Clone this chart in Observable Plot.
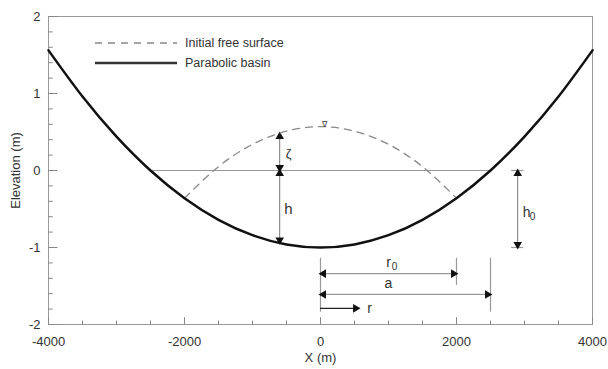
<!DOCTYPE html>
<html><head><meta charset="utf-8">
<script src="https://cdn.jsdelivr.net/npm/d3@7"></script>
<script src="https://cdn.jsdelivr.net/npm/@observablehq/plot@0.6"></script>
<style>
body{margin:0;background:#fff;font-family:"Liberation Sans",Arial,sans-serif}
#wrap{position:relative;width:608px;height:369px}
#legend{position:absolute;left:95px;top:33px;font-size:12.5px;color:#333;line-height:20px}
#legend div{display:flex;align-items:center}
#legend svg{margin-right:8px}
</style>
</head><body>
<div id="wrap">
<div id="legend">
<div><svg width="82" height="10"><line x1="0" y1="5" x2="82" y2="5" stroke="#888" stroke-width="1.3" stroke-dasharray="7,6"/></svg>Initial free surface</div>
<div><svg width="82" height="10"><line x1="0" y1="5" x2="82" y2="5" stroke="#333" stroke-width="2.5"/></svg>Parabolic basin</div>
</div>
</div>
<script>
// Parabolic basin
const basinX = [-4000,-3500,-3000,-2500,-2000,-1500,-1000,-500,0,500,1000,1500,2000,2500,3000,3500,4000];
const basinZ = [1.56,0.96,0.44,0.0,-0.36,-0.64,-0.84,-0.96,-1.0,-0.96,-0.84,-0.64,-0.36,0.0,0.44,0.96,1.56];
// Initial free surface (dashed)
const surfX = [-2000,-1500,-1000,-500,0,500,1000,1500,2000];
const surfZ = [-0.36,0.05,0.34,0.51,0.57,0.51,0.34,0.05,-0.36];
// Still water level segment
const levelX = [-2500,2500];
const levelZ = [0,0];
// Axis ticks
const xMajor = [-4000,-2000,0,2000,4000];
const xMinor = d3.range(-4000,4001,500);
const yMajor = [-2,-1,0,1,2];
const yMinor = d3.range(-20,21,2).map(d=>d/10);
// Annotation arrows
const vArrows = [
  {name:"zeta", x:-600, y1:0, y2:0.48},
  {name:"h", x:-600, y1:-0.94, y2:0},
  {name:"h0", x:2900, y1:-1.0, y2:0}
];
const hArrows = [
  {name:"r0", y:-1.34, x1:0, x2:2000},
  {name:"a", y:-1.61, x1:0, x2:2500},
  {name:"r", y:-1.79, x1:0, x2:560}
];
const guides = [
  {x:0, y1:-1.14, y2:-1.84},
  {x:2000, y1:-1.14, y2:-1.49},
  {x:2500, y1:-1.14, y2:-1.84}
];
const caps = [
  {y:0, x1:2810, x2:2990},
  {y:-1.0, x1:2810, x2:2990}
];
const heads = [
  {x:-600, y:0.48, dir:"up"}, {x:-600, y:0, dir:"down"},
  {x:-600, y:0, dir:"up"}, {x:-600, y:-0.94, dir:"down"},
  {x:2900, y:0, dir:"up"}, {x:2900, y:-1.0, dir:"down"},
  {x:0, y:-1.34, dir:"left"}, {x:2000, y:-1.34, dir:"right"},
  {x:0, y:-1.61, dir:"left"}, {x:2500, y:-1.61, dir:"right"},
  {x:560, y:-1.79, dir:"right"}
];
const labels = [
  {x:-470, y:0.22, text:"ζ", size:13},
  {x:-470, y:-0.5, text:"h", size:15},
  {x:3030, y:-0.55, text:"h", size:14},
  {x:1000, y:-1.2, text:"r", size:14},
  {x:1000, y:-1.47, text:"a", size:14},
  {x:720, y:-1.79, text:"r", size:14},
  {x:60, y:0.6, text:"∇", size:8}
];
const subs = [
  {x:3030, y:-0.55, text:"0"},
  {x:1000, y:-1.2, text:"0"}
];

const basin = basinX.map((x,i)=>({x, z:basinZ[i]}));
const surf = surfX.map((x,i)=>({x, z:surfZ[i]}));
const level = levelX.map((x,i)=>({x, z:levelZ[i]}));
const rot = {up:0, right:90, down:180, left:270};
const hd = heads.map(d=>({...d, rotate:rot[d.dir]}));

const tri = dir => Plot.dot(hd.filter(d=>d.dir===dir), {x:"x", y:"y", symbol:"triangle", r:3.2, fill:"#111", stroke:"none", rotate:"rotate",
  dx: dir==="right"?-3:dir==="left"?3:0, dy: dir==="up"?3:dir==="down"?-3:0});

const chart = Plot.plot({
  width:608, height:369,
  marginLeft:48, marginRight:16, marginTop:16, marginBottom:45,
  style:{fontFamily:"'Liberation Sans',Arial,sans-serif", fontSize:"13px", color:"#333", background:"#fff"},
  x:{domain:[-4000,4000]},
  y:{domain:[-2,2]},
  marks:[
    Plot.frame({stroke:"#999"}),
    Plot.ruleX(xMinor, {x:d=>d, y1:-2, y2:-1.955, stroke:"#888"}),
    Plot.ruleX(xMajor, {x:d=>d, y1:-2, y2:-1.91, stroke:"#888"}),
    Plot.ruleY(yMinor, {y:d=>d, x1:-4000, x2:-3930, stroke:"#888"}),
    Plot.ruleY(yMajor, {y:d=>d, x1:-4000, x2:-3860, stroke:"#888"}),
    Plot.axisX(xMajor, {tickSize:0, tickPadding:12, tickFormat:d=>String(d), label:"X (m)", labelAnchor:"center", labelOffset:37, labelArrow:"none", fontSize:13}),
    Plot.axisY(yMajor, {tickSize:0, tickPadding:8, tickFormat:d=>String(d), label:"Elevation (m)", labelAnchor:"center", labelOffset:38, labelArrow:"none", fontSize:13}),
    Plot.line(level, {x:"x", y:"z", stroke:"#999", strokeWidth:1.2}),
    Plot.ruleX(guides, {x:"x", y1:"y1", y2:"y2", stroke:"#999", strokeWidth:1.2}),
    Plot.ruleY(caps, {y:"y", x1:"x1", x2:"x2", stroke:"#999", strokeWidth:1.2}),
    Plot.ruleX(vArrows, {x:"x", y1:"y1", y2:"y2", stroke:"#777", strokeWidth:1}),
    Plot.ruleY(hArrows, {y:"y", x1:"x1", x2:"x2", stroke:d=>d.name==="r"?"#222":"#999", strokeWidth:1.2}),
    tri("up"), tri("down"), tri("left"), tri("right"),
    Plot.line(surf, {x:"x", y:"z", stroke:"#888", strokeWidth:1.3, strokeDasharray:"7,6", curve:"natural"}),
    Plot.line(basin, {x:"x", y:"z", stroke:"#111", strokeWidth:2.5, curve:"natural"}),
    Plot.text(labels, {x:"x", y:"y", text:"text", fontSize:"size", textAnchor:"middle", fill:"#333"}),
    Plot.text(subs, {x:"x", y:"y", text:"text", fontSize:10, dx:6, dy:4, textAnchor:"middle", fill:"#333"})
  ]
});
document.getElementById("wrap").prepend(chart);
chart.style.position="absolute"; chart.style.left="0"; chart.style.top="0";
document.getElementById("legend").style.zIndex = 2;
</script>
</body></html>
